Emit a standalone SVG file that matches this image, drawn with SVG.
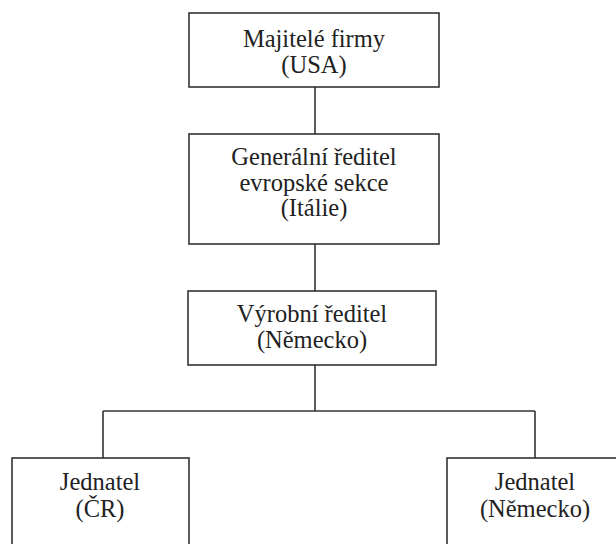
<svg xmlns="http://www.w3.org/2000/svg" width="616" height="544" viewBox="0 0 616 544">
  <style>
    .box { fill: #ffffff; stroke: #333333; stroke-width: 1.6; }
    .conn { fill: none; stroke: #333333; stroke-width: 1.6; }
    .lbl { font-family: "Liberation Serif", "Times New Roman", serif; font-size: 24.5px; fill: #222222; text-anchor: middle; }
  </style>
  <rect x="0" y="0" width="616" height="544" fill="#ffffff"/>
  <g id="connectors">
    <line class="conn" x1="315" y1="87" x2="315" y2="134"/>
    <line class="conn" x1="315" y1="244" x2="315" y2="291"/>
    <line class="conn" x1="315" y1="365" x2="315" y2="411"/>
    <line class="conn" x1="103" y1="411" x2="535" y2="411"/>
    <line class="conn" x1="103" y1="411" x2="103" y2="458"/>
    <line class="conn" x1="535" y1="411" x2="535" y2="458"/>
  </g>
  <g id="majitele">
    <rect class="box" x="189" y="13" width="250" height="74"/>
    <text class="lbl" x="314" y="47">Majitelé firmy</text>
    <text class="lbl" x="314" y="73">(USA)</text>
  </g>
  <g id="generalni-reditel">
    <rect class="box" x="189" y="134" width="250" height="110"/>
    <text class="lbl" x="314" y="165">Generální ředitel</text>
    <text class="lbl" x="314" y="191">evropské sekce</text>
    <text class="lbl" x="314" y="216">(Itálie)</text>
  </g>
  <g id="vyrobni-reditel">
    <rect class="box" x="188" y="291" width="248" height="74"/>
    <text class="lbl" x="312" y="322">Výrobní ředitel</text>
    <text class="lbl" x="312" y="348">(Německo)</text>
  </g>
  <g id="jednatel-cr">
    <rect class="box" x="12" y="458" width="177" height="100"/>
    <text class="lbl" x="100" y="490">Jednatel</text>
    <text class="lbl" x="100" y="517">(ČR)</text>
  </g>
  <g id="jednatel-de">
    <rect class="box" x="447" y="458" width="177" height="100"/>
    <text class="lbl" x="535" y="490">Jednatel</text>
    <text class="lbl" x="535" y="517">(Německo)</text>
  </g>
</svg>
